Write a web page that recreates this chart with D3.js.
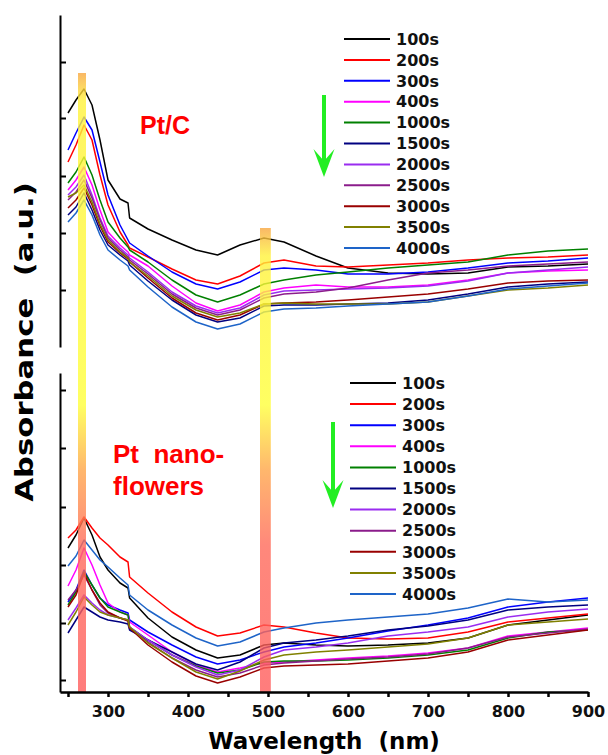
<!DOCTYPE html>
<html lang="en">
<head>
<meta charset="UTF-8">
<title>Absorbance vs Wavelength</title>
<script src="https://d3js.org/d3.v7.min.js"></script>
<style>
  body { margin: 0; background: #fff; }
  svg text { font-weight: bold; }
</style>
</head>
<body>
<div id="chart"></div>
<script>
// wavelength grid (nm) shared by all spectra
const wavelengths = [250, 260, 270, 280, 290, 300, 315, 325, 327, 350, 380, 410, 437, 465, 495, 520, 560, 600, 650, 700, 750, 800, 850, 900];

const labels = ["100s", "200s", "300s", "400s", "1000s", "1500s", "2000s", "2500s", "3000s", "3500s", "4000s"];
const colors = ["#000000", "#ff0000", "#0000ff", "#ff00ff", "#008000", "#000080", "#9a2cf0", "#8b1c8b", "#990000", "#808000", "#1e64c8"];

// Pt/C absorbance (a.u.)
const ptc100 = [2.34,2.47,2.58,2.42,2.07,1.67,1.48,1.44,1.29,1.18,1.07,0.97,0.92,1.02,1.09,1.05,0.91,0.79,0.74,0.73,0.74,0.80,0.81,0.83];
const ptc200 = [1.85,2.02,2.22,2.07,1.72,1.42,1.15,1.02,0.99,0.90,0.78,0.67,0.63,0.71,0.84,0.87,0.81,0.80,0.82,0.84,0.87,0.89,0.90,0.92];
const ptc300 = [1.97,2.14,2.30,2.17,1.85,1.52,1.22,1.07,1.04,0.91,0.75,0.63,0.58,0.65,0.77,0.79,0.77,0.73,0.73,0.75,0.79,0.84,0.86,0.89];
const ptc400 = [1.57,1.67,1.80,1.62,1.37,1.15,1.02,0.95,0.92,0.81,0.61,0.44,0.36,0.42,0.55,0.59,0.62,0.60,0.60,0.62,0.67,0.74,0.76,0.77];
const ptc1000 = [1.64,1.75,1.90,1.72,1.47,1.25,1.09,1.00,0.97,0.85,0.67,0.52,0.45,0.52,0.63,0.67,0.72,0.75,0.79,0.82,0.85,0.92,0.96,0.98];
const ptc1500 = [1.32,1.40,1.54,1.37,1.17,1.02,0.92,0.86,0.82,0.66,0.47,0.32,0.25,0.29,0.41,0.42,0.42,0.43,0.44,0.47,0.53,0.60,0.63,0.65];
const ptc2000 = [1.52,1.60,1.72,1.52,1.29,1.11,0.99,0.92,0.89,0.75,0.55,0.41,0.34,0.39,0.52,0.56,0.57,0.58,0.59,0.61,0.66,0.74,0.77,0.80];
const ptc2500 = [1.47,1.55,1.67,1.49,1.27,1.09,0.97,0.90,0.87,0.73,0.53,0.39,0.32,0.37,0.49,0.53,0.55,0.59,0.67,0.74,0.77,0.81,0.83,0.85];
const ptc3000 = [1.39,1.47,1.59,1.42,1.21,1.05,0.94,0.88,0.85,0.69,0.49,0.34,0.27,0.32,0.43,0.44,0.45,0.47,0.50,0.53,0.58,0.64,0.66,0.67];
const ptc3500 = [1.50,1.54,1.62,1.45,1.23,1.07,0.95,0.89,0.85,0.71,0.51,0.37,0.30,0.34,0.43,0.44,0.43,0.43,0.43,0.45,0.51,0.57,0.59,0.62];
const ptc4000 = [1.25,1.34,1.47,1.32,1.12,0.97,0.87,0.81,0.77,0.60,0.40,0.25,0.18,0.23,0.35,0.38,0.39,0.41,0.43,0.45,0.51,0.58,0.61,0.64];

// Pt nanoflowers absorbance (a.u.)
const ptf100 = [1.44,1.57,1.74,1.57,1.35,1.22,1.09,1.04,0.94,0.74,0.55,0.42,0.34,0.37,0.47,0.49,0.47,0.46,0.47,0.49,0.54,0.67,0.72,0.77];
const ptf200 = [1.54,1.62,1.75,1.64,1.54,1.47,1.35,1.30,1.15,0.99,0.80,0.65,0.56,0.59,0.67,0.65,0.59,0.54,0.53,0.54,0.60,0.70,0.74,0.78];
const ptf300 = [0.90,1.02,1.22,1.07,0.94,0.87,0.82,0.79,0.72,0.60,0.47,0.35,0.28,0.32,0.40,0.45,0.49,0.54,0.61,0.67,0.74,0.85,0.90,0.94];
const ptf400 = [1.06,1.22,1.44,1.27,1.07,0.89,0.80,0.77,0.70,0.57,0.40,0.27,0.20,0.24,0.29,0.30,0.32,0.34,0.36,0.39,0.44,0.56,0.60,0.64];
const ptf1000 = [0.87,1.00,1.20,1.07,0.94,0.85,0.80,0.77,0.65,0.52,0.37,0.26,0.19,0.22,0.30,0.31,0.31,0.32,0.34,0.37,0.42,0.54,0.60,0.62];
const ptf1500 = [0.59,0.72,0.85,0.80,0.75,0.72,0.70,0.68,0.62,0.52,0.40,0.28,0.22,0.30,0.44,0.49,0.52,0.56,0.62,0.66,0.72,0.82,0.85,0.87];
const ptf2000 = [0.72,0.84,0.97,0.89,0.82,0.77,0.74,0.72,0.65,0.52,0.37,0.25,0.17,0.22,0.35,0.42,0.45,0.49,0.56,0.60,0.65,0.75,0.80,0.83];
const ptf2500 = [0.92,1.02,1.17,1.02,0.87,0.79,0.74,0.72,0.64,0.50,0.34,0.22,0.15,0.19,0.27,0.29,0.31,0.33,0.35,0.38,0.44,0.55,0.59,0.63];
const ptf3000 = [0.85,0.97,1.19,1.02,0.89,0.80,0.74,0.71,0.64,0.47,0.30,0.16,0.09,0.15,0.24,0.26,0.27,0.28,0.31,0.34,0.40,0.52,0.57,0.62];
const ptf3500 = [0.67,0.80,0.95,0.87,0.80,0.77,0.74,0.72,0.65,0.49,0.34,0.20,0.13,0.21,0.32,0.37,0.40,0.42,0.45,0.48,0.54,0.67,0.70,0.73];
const ptf4000 = [1.26,1.36,1.52,1.42,1.32,1.25,1.14,1.07,0.97,0.82,0.67,0.54,0.46,0.50,0.60,0.64,0.69,0.72,0.75,0.78,0.84,0.93,0.90,0.92];

const ptcSeries = [ptc100, ptc200, ptc300, ptc400, ptc1000, ptc1500, ptc2000, ptc2500, ptc3000, ptc3500, ptc4000];
const ptfSeries = [ptf100, ptf200, ptf300, ptf400, ptf1000, ptf1500, ptf2000, ptf2500, ptf3000, ptf3500, ptf4000];

const xTicks = [250, 300, 350, 400, 450, 500, 550, 600, 650, 700, 750, 800, 850, 900];
const topTicks = [0.57, 1.14, 1.71, 2.29, 2.85];
const botTicks = [0.12, 0.69, 1.27, 1.85, 2.44, 3.02];

// highlighted peaks: [from nm, to nm, top of bar in Pt/C a.u.]
const bands = [[262.5, 272.5, 2.74], [490, 503.5, 1.19]];

const w = 608, h = 755;
const svg = d3.select("#chart").append("svg").attr("width", w).attr("height", h);
svg.append("rect").attr("width", w).attr("height", h).attr("fill", "#fff");

const x = d3.scaleLinear().domain([240, 900]).range([60, 588]);
const yTop = d3.scaleLinear().domain([0, 3.32]).range([347, 15]);
const yBot = d3.scaleLinear().domain([0, 3.19]).range([692, 373]);

function drawSpectra(series, y) {
  const line = d3.line().x((d, i) => x(wavelengths[i])).y(d => y(d));
  svg.append("g").selectAll("path")
    .data(series)
    .enter()
    .append("path")
    .attr("d", d => line(d))
    .attr("fill", "none")
    .attr("stroke", (d, i) => colors[i])
    .attr("stroke-width", 1.5)
    .attr("stroke-linejoin", "round");
}
drawSpectra(ptcSeries, yTop);
drawSpectra(ptfSeries, yBot);

// gradient bars over the peaks
const defs = svg.append("defs");
bands.forEach((b, k) => {
  const top = yTop(b[2]);
  const g = defs.append("linearGradient")
    .attr("id", "band" + k)
    .attr("gradientUnits", "userSpaceOnUse")
    .attr("x1", 0).attr("x2", 0).attr("y1", top).attr("y2", yBot(0));
  const span = yBot(0) - top;
  const at = v => Math.max(0, Math.min(1, (v - top) / span));
  g.append("stop").attr("offset", 0).attr("stop-color", "#f8a640");
  g.append("stop").attr("offset", at(top + 28)).attr("stop-color", "#fff23a");
  g.append("stop").attr("offset", at(405)).attr("stop-color", "#ffff3a");
  g.append("stop").attr("offset", at(470)).attr("stop-color", "#ffa548");
  g.append("stop").attr("offset", at(545)).attr("stop-color", "#ff6a5a");
  g.append("stop").attr("offset", 1).attr("stop-color", "#ff5c5c");
  svg.append("rect")
    .attr("x", x(b[0]))
    .attr("width", x(b[1]) - x(b[0]))
    .attr("y", top)
    .attr("height", yBot(0) - top)
    .attr("fill", "url(#band" + k + ")")
    .attr("opacity", 0.8);
});

// axes
function styleAxis(g, sw) {
  g.selectAll("path, line").attr("stroke", "#000").attr("stroke-width", sw);
}
const axTop = svg.append("g").attr("transform", "translate(60,0)")
  .call(d3.axisLeft(yTop).tickValues(topTicks).tickSizeInner(-6).tickSizeOuter(0).tickFormat(""));
styleAxis(axTop, 2);
const axBotL = svg.append("g").attr("transform", "translate(60,0)")
  .call(d3.axisLeft(yBot).tickValues(botTicks).tickSizeInner(-6).tickSizeOuter(0).tickFormat(""));
styleAxis(axBotL, 2);
const axX = svg.append("g").attr("transform", "translate(0,692)")
  .call(d3.axisBottom(x).tickValues(xTicks).tickSizeInner(5).tickSizeOuter(0).tickPadding(9)
    .tickFormat(d => d % 100 === 0 ? d : ""));
styleAxis(axX, 2.5);
axX.selectAll("text").attr("fill", "#111")
  .style("font-family", "'DejaVu Sans'").style("font-size", "16px").style("font-weight", "bold");

svg.append("text")
  .attr("x", 324).attr("y", 749)
  .attr("text-anchor", "middle")
  .style("font-family", "'DejaVu Sans'").style("font-size", "23px")
  .attr("xml:space", "preserve")
  .text("Wavelength  (nm)");

svg.append("text")
  .attr("transform", "translate(33,342) rotate(-90) scale(1.23,1)")
  .attr("text-anchor", "middle")
  .style("font-family", "'DejaVu Sans'").style("font-size", "25px")
  .attr("xml:space", "preserve")
  .text("Absorbance  (a.u.)");

// sample names
const red = "#ff0000";
svg.append("text").attr("x", 140).attr("y", 134).attr("fill", red)
  .style("font-family", "'Liberation Sans'").style("font-size", "25px").text("Pt/C");
svg.append("text").attr("x", 113).attr("y", 463).attr("fill", red)
  .style("font-family", "'Liberation Sans'").style("font-size", "26px")
  .attr("xml:space", "preserve").text("Pt  nano-");
svg.append("text").attr("x", 113).attr("y", 495).attr("fill", red)
  .style("font-family", "'Liberation Sans'").style("font-size", "26px").text("flowers");

// legends
function legend(x0, y0, step) {
  const g = svg.append("g").attr("transform", "translate(" + x0 + "," + y0 + ")");
  const rows = g.selectAll("g").data(labels).enter().append("g")
    .attr("transform", (d, i) => "translate(0," + (i * step) + ")");
  rows.append("line").attr("x1", 0).attr("x2", 46)
    .attr("stroke", (d, i) => colors[i]).attr("stroke-width", 2);
  rows.append("text").attr("x", 52).attr("dy", "0.36em")
    .style("font-family", "'DejaVu Sans'").style("font-size", "16px")
    .attr("fill", "#111").text(d => d);
}
legend(344, 39, 20.9);
legend(350, 383, 21.1);

// green arrows
function arrow(cx, y0, y1) {
  svg.append("line").attr("x1", cx).attr("x2", cx).attr("y1", y0).attr("y2", y1 - 14)
    .attr("stroke", "#22ee22").attr("stroke-width", 4);
  svg.append("path")
    .attr("d", "M" + (cx - 10.5) + "," + (y1 - 28) + " L" + cx + "," + y1 + " L" + (cx + 10.5) + "," + (y1 - 28) + " L" + cx + "," + (y1 - 16) + "Z")
    .attr("fill", "#22ee22");
}
arrow(324, 95, 177);
arrow(333, 422, 508);
</script>
</body>
</html>
